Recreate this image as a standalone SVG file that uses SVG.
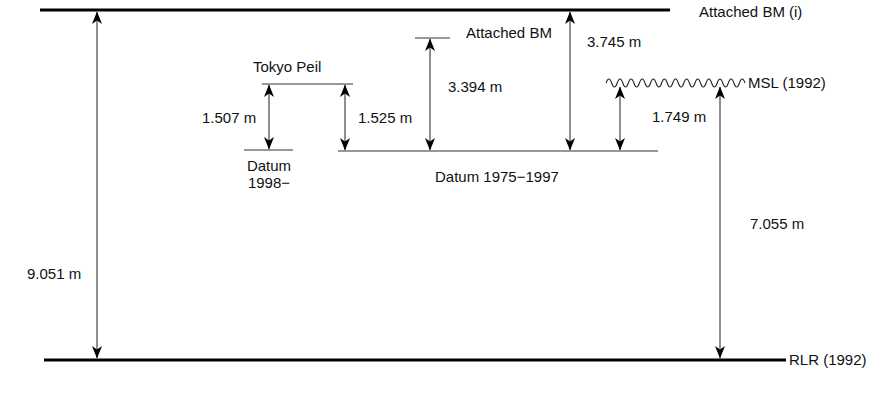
<svg xmlns="http://www.w3.org/2000/svg" width="875" height="400" viewBox="0 0 875 400">
<style>
  text { font-family: "Liberation Sans", Arial, sans-serif; font-size: 15px; fill: #111; }
  .thick { stroke: #000; stroke-width: 3; fill: none; }
  .thin { stroke: #333; stroke-width: 1.2; fill: none; }
  .dim { stroke: #333; stroke-width: 1.1; fill: none; marker-start: url(#ah); marker-end: url(#ah); }
  .wave { stroke: #222; stroke-width: 1.1; fill: none; }
</style>
<defs>
  <marker id="ah" markerUnits="userSpaceOnUse" viewBox="-13 -6 14 12" refX="0" refY="0" markerWidth="14" markerHeight="12" orient="auto-start-reverse">
    <path d="M0.5,0 L-12,-5 L-8.5,0 L-12,5 Z" fill="#000"/>
  </marker>
</defs>
<rect width="875" height="400" fill="#fff"/>

<g id="attached-bm-i">
  <line class="thick" x1="40" y1="10" x2="670" y2="10"/>
  <text x="699" y="17">Attached BM (i)</text>
</g>
<g id="attached-bm">
  <line class="thin" x1="415" y1="38" x2="450" y2="38"/>
  <text x="466" y="38">Attached BM</text>
</g>
<g id="tokyo-peil">
  <line class="thin" x1="262" y1="84" x2="353" y2="84"/>
  <text x="253" y="72">Tokyo Peil</text>
</g>
<g id="datum-1998">
  <line class="thin" x1="244" y1="150" x2="293" y2="150"/>
  <text x="269" y="171" text-anchor="middle">Datum</text>
  <text x="269" y="188" text-anchor="middle">1998−</text>
</g>
<g id="datum-1975-1997">
  <line class="thin" x1="338" y1="151" x2="658" y2="151"/>
  <text x="435" y="182">Datum 1975−1997</text>
</g>
<g id="msl-1992">
  <path class="wave" d="M606.1,83 q2.78,-8 5.555,0 t5.555,0 t5.555,0 t5.555,0 t5.555,0 t5.555,0 t5.555,0 t5.555,0 t5.555,0 t5.555,0 t5.555,0 t5.555,0 t5.555,0 t5.555,0 t5.555,0 t5.555,0 t5.555,0 t5.555,0 t5.555,0 t5.555,0 t5.555,0 t5.555,0 t5.555,0 t5.555,0 t5.555,0"/>
  <text x="748" y="88">MSL (1992)</text>
</g>
<g id="rlr-1992">
  <line class="thick" x1="44" y1="360" x2="786" y2="360"/>
  <text x="789" y="365">RLR (1992)</text>
</g>

<g id="connectors">
  <line class="dim" x1="97" y1="12" x2="97" y2="358"/>
  <text x="27" y="279">9.051 m</text>
  <line class="dim" x1="269" y1="85" x2="269" y2="149"/>
  <text x="202" y="123">1.507 m</text>
  <line class="dim" x1="345" y1="85" x2="345" y2="150"/>
  <text x="358" y="123">1.525 m</text>
  <line class="dim" x1="430" y1="39" x2="430" y2="150"/>
  <text x="448" y="92">3.394 m</text>
  <line class="dim" x1="570" y1="12" x2="570" y2="150"/>
  <text x="587" y="47">3.745 m</text>
  <line class="dim" x1="620" y1="87" x2="620" y2="150"/>
  <text x="652" y="122">1.749 m</text>
  <line class="dim" x1="720" y1="87" x2="720" y2="358"/>
  <text x="750" y="229">7.055 m</text>
</g>
</svg>
